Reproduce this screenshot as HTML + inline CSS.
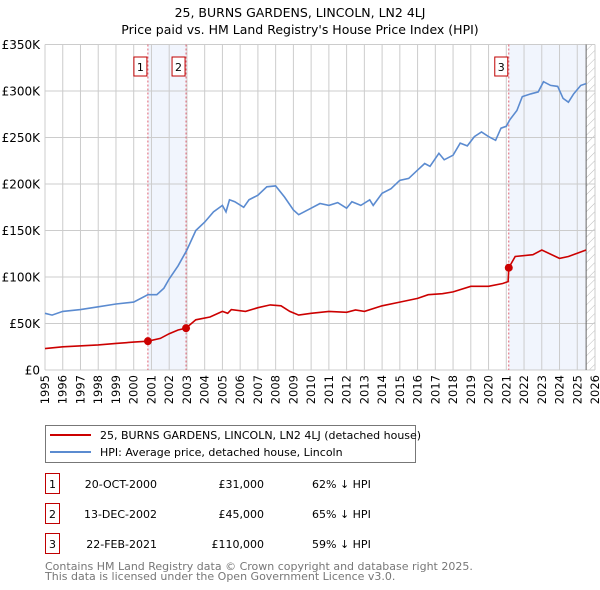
<!DOCTYPE html>
<html><head><meta charset="utf-8"><style>
body{margin:0;background:#fff;font-family:"DejaVu Sans","Liberation Sans",sans-serif;}
#wrap{position:relative;width:600px;height:590px;overflow:hidden}
</style></head><body><div id="wrap">
<svg id="c" width="600" height="590" xmlns="http://www.w3.org/2000/svg" font-family="DejaVu Sans, Liberation Sans, sans-serif"></svg>
</div>
<script>
const yTicks=[0,50,100,150,200,250,300,350];
const yTickLabels=["£0","£50K","£100K","£150K","£200K","£250K","£300K","£350K"];
const years=[1995,1996,1997,1998,1999,2000,2001,2002,2003,2004,2005,2006,2007,2008,2009,2010,2011,2012,2013,2014,2015,2016,2017,2018,2019,2020,2021,2022,2023,2024,2025,2026];
const hpiT=[1995,1995.4,1996,1997,1998,1999,2000,2000.8,2001.3,2001.7,2002,2002.5,2003,2003.5,2004,2004.5,2005,2005.2,2005.4,2005.7,2006.2,2006.5,2007,2007.5,2008,2008.5,2009,2009.3,2010,2010.5,2011,2011.5,2012,2012.3,2012.8,2013.3,2013.5,2014,2014.5,2015,2015.5,2016,2016.4,2016.7,2017.2,2017.5,2018,2018.4,2018.8,2019.2,2019.6,2020,2020.4,2020.7,2021,2021.2,2021.6,2021.9,2022.4,2022.8,2023.1,2023.5,2023.9,2024.2,2024.5,2024.8,2025.2,2025.5];
const hpiV=[61,59,63,65,68,71,73,81,81,88,98,112,129,150,159,170,177,170,183,181,175,183,188,197,198,186,172,167,174,179,177,180,174,181,177,183,177,190,195,204,206,215,222,219,233,226,231,244,241,251,256,251,247,260,262,269,279,294,297,299,310,306,305,292,288,297,306,308];
const redT=[1995,1996,1998,1999,2000,2000.8,2001.5,2002,2002.5,2002.95,2003.5,2004.3,2005,2005.3,2005.5,2006.3,2007,2007.7,2008.3,2008.8,2009.3,2010,2011,2012,2012.5,2013,2014,2015,2016,2016.6,2017.4,2018,2019,2020,2020.8,2021.1,2021.14,2021.5,2022.5,2023,2024,2024.5,2025.5];
const redV=[23,25,27,28.6,30,31,34,39,43,45,54,57,63,61,65,63,67,70,69,63,59,61,63,62,64.5,63,69,73,77,81,82,84,90,90,93,95,110,122,124,129,120,122,129];
const saleT=[2000.8,2002.95,2021.14];
const saleV=[31,45,110];
const saleLabels=["1","2","3"];
const x0=45,x1=595,y0=370,y1=44.5;
const X=t=>x0+(t-1995)*(x1-x0)/31;
const Y=v=>y0-v*(y0-y1)/350;
const svg=document.getElementById('c');
const NS="http://www.w3.org/2000/svg";
function el(tag,a,p){const e=document.createElementNS(NS,tag);for(const k in a)e.setAttribute(k,a[k]);(p||svg).appendChild(e);return e;}
// titles
let t=el('text',{x:300,y:17,'text-anchor':'middle','font-size':12.5});t.textContent="25, BURNS GARDENS, LINCOLN, LN2 4LJ";


t=el('text',{x:300,y:34,'text-anchor':'middle','font-size':12.5});t.textContent="Price paid vs. HM Land Registry's House Price Index (HPI)";


// shading
let r=el('rect',{x:X(saleT[0]),y:y1,width:X(saleT[1])-X(saleT[0]),height:y0-y1,fill:'#eef3fc',opacity:0.8});


r=el('rect',{x:X(saleT[2]),y:y1,width:X(2025.5)-X(saleT[2]),height:y0-y1,fill:'#eef3fc',opacity:0.8});


// hatch
const defs=el('defs',{});
const pat=el('pattern',{id:'h',width:6,height:6,patternUnits:'userSpaceOnUse',patternTransform:'rotate(45)'},defs);
el('line',{x1:0,y1:0,x2:0,y2:6,stroke:'#bbb','stroke-width':1},pat);
r=el('rect',{x:X(2025.5),y:y1,width:x1-X(2025.5),height:y0-y1,fill:'url(#h)'});


// grid
years.forEach(yr=>{const l=el('line',{x1:X(yr),x2:X(yr),y1:y1,y2:y0,stroke:'#cccccc','stroke-width':1});


const tx=el('text',{x:0,y:0,'text-anchor':'end','font-size':11.5,transform:`translate(${X(yr)+4},${y0+5}) rotate(-90)`});tx.textContent=yr;

});
yTicks.forEach((v,i)=>{const l=el('line',{x1:x0,x2:x1,y1:Y(v),y2:Y(v),stroke:'#cccccc','stroke-width':1});


const tx=el('text',{x:x0-5,y:Y(v)+4.5,'text-anchor':'end','font-size':12});tx.textContent=yTickLabels[i];

});
let l=el('line',{x1:X(2025.5),x2:X(2025.5),y1:y1,y2:y0,stroke:'#666','stroke-width':1});


// sale lines
saleT.forEach((s,i)=>{const d=el('line',{x1:X(s),x2:X(s),y1:y1,y2:y0,stroke:'#e06070','stroke-width':1,'stroke-dasharray':'2,2'});


const bx=el('rect',{x:X(s)-14+ (i==2?0:0),y:57,width:13,height:19,fill:'#fff',stroke:'#c00000','stroke-width':1});


const tx=el('text',{x:X(s)-7.5,y:71,'text-anchor':'middle','font-size':11});tx.textContent=saleLabels[i];

});
// lines
const pts=(T,V)=>T.map((tt,i)=>X(tt).toFixed(1)+','+Y(V[i]).toFixed(1)).join(' ');
let p=el('polyline',{points:pts(hpiT,hpiV),fill:'none',stroke:'#5b8bd0','stroke-width':1.6});


p=el('polyline',{points:pts(redT,redV),fill:'none',stroke:'#cc0000','stroke-width':1.6});


saleT.forEach((s,i)=>{const c=el('circle',{cx:X(s),cy:Y(saleV[i]),r:4,fill:'#cc0000'});

});
// legend
r=el('rect',{x:45.5,y:425.5,width:370,height:37,fill:'#fff',stroke:'#777','stroke-width':1});


el('line',{x1:50,x2:91,y1:435,y2:435,stroke:'#cc0000','stroke-width':2});
el('line',{x1:50,x2:91,y1:452,y2:452,stroke:'#5b8bd0','stroke-width':2});
t=el('text',{x:100,y:439,'font-size':11});t.textContent="25, BURNS GARDENS, LINCOLN, LN2 4LJ (detached house)";


t=el('text',{x:100,y:456,'font-size':11});t.textContent="HPI: Average price, detached house, Lincoln";


// table
const dates=["20-OCT-2000","13-DEC-2002","22-FEB-2021"];
const prices=["£31,000","£45,000","£110,000"];
const pcts=["62% ↓ HPI","65% ↓ HPI","59% ↓ HPI"];
[0,1,2].forEach(i=>{const yy=483+i*30;
const b=el('rect',{x:45.5,y:yy-9.5,width:14,height:20,fill:'#fff',stroke:'#c00000','stroke-width':1});


let q=el('text',{x:52.5,y:yy+5,'text-anchor':'middle','font-size':11});q.textContent=saleLabels[i];


q=el('text',{x:157,y:yy+5,'text-anchor':'end','font-size':11});q.textContent=dates[i];


q=el('text',{x:264,y:yy+5,'text-anchor':'end','font-size':11});q.textContent=prices[i];


q=el('text',{x:312,y:yy+5,'font-size':11});q.textContent=pcts[i];

});
t=el('text',{x:45,y:570,'font-size':11,fill:'#777'});t.textContent="Contains HM Land Registry data © Crown copyright and database right 2025.";


t=el('text',{x:45,y:580,'font-size':11,fill:'#777'});t.textContent="This data is licensed under the Open Government Licence v3.0.";


</script></body></html>
